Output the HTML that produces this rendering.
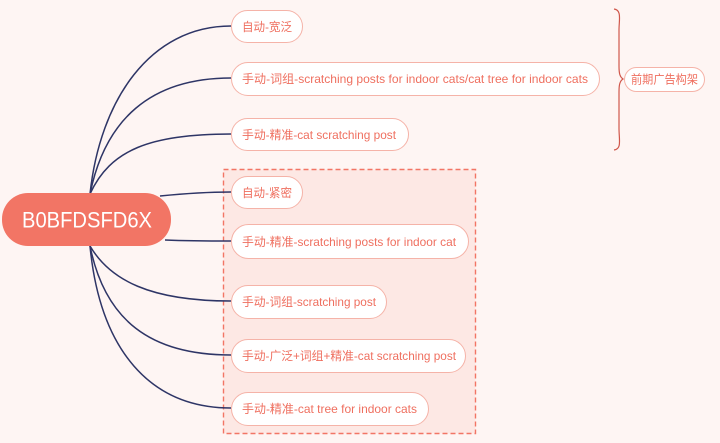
<!DOCTYPE html>
<html><head><meta charset="utf-8"><style>
body{margin:0;background:#fef5f3;}
svg{display:block}
text{font-family:"Liberation Sans","Noto Sans CJK SC",sans-serif;fill:#ef6f5f;font-size:12px;dominant-baseline:central}
</style></head><body>
<svg width="720" height="443" viewBox="0 0 720 443">
<rect x="0" y="0" width="720" height="443" fill="#fef5f3"/>
<rect x="223.5" y="169.5" width="252" height="264" fill="#fde8e4" stroke="#f27565" stroke-width="1.4" stroke-dasharray="5,3"/>
<g fill="none" stroke="#2e3566" stroke-width="1.5">
<path d="M90 194 C100 100 150 26 231 26"/>
<path d="M90 194 C105 120 150 78 231 78"/>
<path d="M90 194 C110 150 150 134 231 134"/>
<path d="M160 196 C190 193 210 192 231 192"/>
<path d="M165 240 C190 241 210 241 231 241"/>
<path d="M90 246 C110 280 150 301 231 301"/>
<path d="M90 246 C105 320 150 355 231 355"/>
<path d="M90 246 C100 350 150 408 231 408"/>
</g>
<rect x="2" y="193" width="169" height="53" rx="26" fill="#f27565"/>
<text x="22" y="220" textLength="130" lengthAdjust="spacingAndGlyphs" style="fill:#fff;font-size:22px">B0BFDSFD6X</text>
<g fill="#fff" stroke="#f5b3a8" stroke-width="1">
<rect x="231.5" y="10.5" width="71" height="32" rx="16"/>
<rect x="231.5" y="62.5" width="368" height="33" rx="16.5"/>
<rect x="231.5" y="118.5" width="177" height="32" rx="16"/>
<rect x="231.5" y="176.5" width="71" height="32" rx="16"/>
<rect x="231.5" y="224.5" width="237" height="34" rx="17"/>
<rect x="231.5" y="285.5" width="155" height="33" rx="16.5"/>
<rect x="231.5" y="339.5" width="234" height="33" rx="16.5"/>
<rect x="231.5" y="392.5" width="197" height="33" rx="16.5"/>
<rect x="624.5" y="67.5" width="80" height="24" rx="12"/>
</g>
<g style="font-size:12.5px">
<text x="242" y="27" textLength="50" lengthAdjust="spacingAndGlyphs">自动-宽泛</text>
<text x="242" y="79" textLength="346" lengthAdjust="spacingAndGlyphs">手动-词组-scratching posts for indoor cats/cat tree for indoor cats</text>
<text x="242" y="135" textLength="154" lengthAdjust="spacingAndGlyphs">手动-精准-cat scratching post</text>
<text x="242" y="193" textLength="50" lengthAdjust="spacingAndGlyphs">自动-紧密</text>
<text x="242" y="242" textLength="214" lengthAdjust="spacingAndGlyphs">手动-精准-scratching posts for indoor cat</text>
<text x="242" y="302" textLength="134" lengthAdjust="spacingAndGlyphs">手动-词组-scratching post</text>
<text x="242" y="356" textLength="214" lengthAdjust="spacingAndGlyphs">手动-广泛+词组+精准-cat scratching post</text>
<text x="242" y="409" textLength="175" lengthAdjust="spacingAndGlyphs">手动-精准-cat tree for indoor cats</text>
</g>
<text x="631" y="79.5" textLength="67" lengthAdjust="spacingAndGlyphs" style="font-size:12px">前期广告构架</text>
<path d="M614 9 C622 10 619 20 619 30 L619 66 C619 74 620 77 623 79 C620 81 619 84 619 92 L619 128 C619 140 622 149 614 150" fill="none" stroke="#d0574b" stroke-width="1.2"/>
</svg>
</body></html>
